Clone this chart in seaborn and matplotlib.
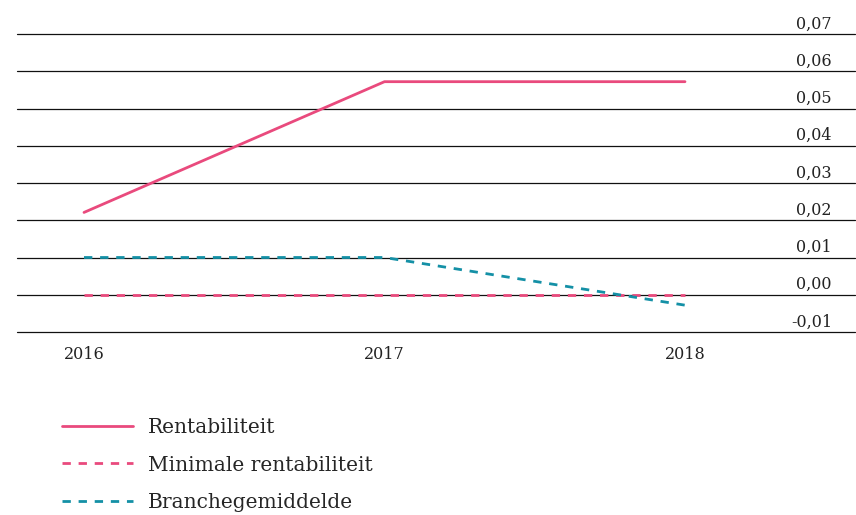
import matplotlib
matplotlib.use("Agg")
import matplotlib.pyplot as plt
import matplotlib.transforms as mtransforms
import seaborn as sns
import pandas as pd

years = [2016, 2017, 2018]
rentabiliteit = [0.0221, 0.0572, 0.0572]
minimale_rentabiliteit = [0.0, 0.0, 0.0]
branchegemiddelde = [0.01, 0.01, -0.0028]
series_names = ["Rentabiliteit", "Minimale rentabiliteit", "Branchegemiddelde"]
y_ticks = [-0.01, 0.00, 0.01, 0.02, 0.03, 0.04, 0.05, 0.06, 0.07]
y_tick_labels = ["-0,01", "0,00", "0,01", "0,02", "0,03", "0,04", "0,05", "0,06", "0,07"]
x_tick_labels = ["2016", "2017", "2018"]

pink = "#E94A7D"
teal = "#1490A6"

df = pd.DataFrame({
    "jaar": years * 3,
    "waarde": rentabiliteit + minimale_rentabiliteit + branchegemiddelde,
    "reeks": [series_names[0]] * 3 + [series_names[1]] * 3 + [series_names[2]] * 3,
})

sns.set_theme(style="white")
plt.rcParams["font.family"] = ["DejaVu Serif"]

fig = plt.figure(figsize=(8.56, 5.15), dpi=100)
W, H = 856, 515
ax = fig.add_axes([17 / W, 1 - 332 / H, (855 - 17) / W, (332 - 34) / H])

# gridlines
for yv in y_ticks:
    ax.axhline(yv, color="#111111", lw=0.9, zorder=1, clip_on=False)

sns.lineplot(
    data=df, x="jaar", y="waarde", hue="reeks", style="reeks",
    hue_order=series_names, style_order=series_names,
    palette={series_names[0]: pink, series_names[1]: pink, series_names[2]: teal},
    dashes={series_names[0]: "", series_names[1]: (3, 2.8), series_names[2]: (3, 2.8)},
    lw=2, ax=ax, zorder=3,
)

ax.set_xlim(2016 - 67 / 300.5, 2018 + 170 / 300.5)
ax.set_ylim(-0.01, 0.07)
for s in ax.spines.values():
    s.set_visible(False)
ax.set_xlabel("")
ax.set_ylabel("")

ax.set_xticks(years)
ax.set_xticklabels(x_tick_labels, fontsize=11.5, color="#222222")
ax.tick_params(axis="x", length=0, pad=10)

ax.yaxis.tick_right()
ax.set_yticks(y_ticks)
ax.set_yticklabels(y_tick_labels, fontsize=11.5, color="#222222")
ax.tick_params(axis="y", length=0, pad=0)
offset = mtransforms.ScaledTranslation(-23 / 100, 12 / 100, fig.dpi_scale_trans)
for lab in ax.get_yticklabels():
    lab.set_horizontalalignment("right")
    lab.set_transform(lab.get_transform() + offset)

handles, labels = ax.get_legend_handles_labels()
ax.legend(
    handles, labels, loc="upper left",
    bbox_to_anchor=(62 / W, 1 - 418 / H), bbox_transform=fig.transFigure,
    frameon=False, fontsize=14.5, handlelength=3.55, handletextpad=0.7,
    labelspacing=0.92, borderpad=0, borderaxespad=0,
)

fig.savefig("out.png", dpi=100)
